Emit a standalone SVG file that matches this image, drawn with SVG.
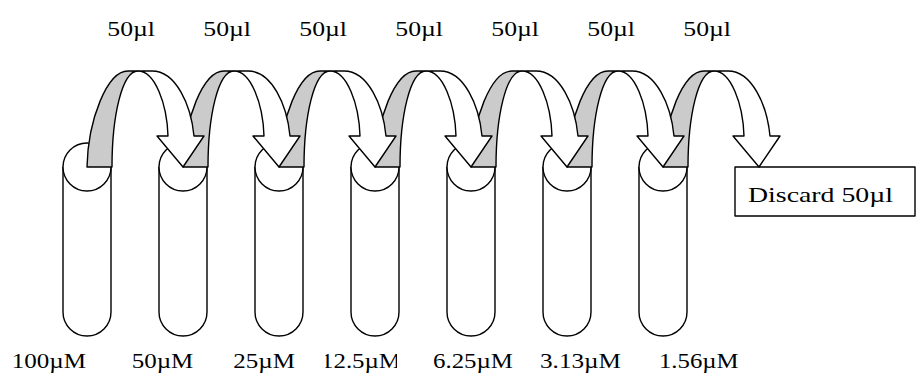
<svg xmlns="http://www.w3.org/2000/svg" width="916" height="374" viewBox="0 0 916 374">
<style>
.o{stroke:#000;stroke-width:1.4;stroke-linejoin:round}
.tube{fill:#fff}
.back{fill:#cbcbcb}
.front{fill:#fff}
text{font-family:"Liberation Serif","Times New Roman",serif;font-size:22px;fill:#000}
</style>
<defs>
<g id="tubeShape">
<path class="o tube" d="M63,167 V312 A24,24 0 0 0 111,312 V167 Z"/>
<circle class="o tube" cx="87" cy="167" r="24"/>
</g>
<g id="arrowShape">
<path class="o back" d="M87,167 C88,120 107,71 128,71 L138,71 C122,71 112,116 112,167 Z"/>
<path class="o front" d="M138,71 L152,71 C176,71 191,105 194,136 L204,136 L183,167 L157,136 L168,136 C167,104 155,71 138,71 Z"/>
</g>
<clipPath id="clip125"><rect x="325.5" y="340" width="71.5" height="34"/></clipPath>
</defs>
<g id="tube1"><use href="#tubeShape"/></g>
<g id="tube2"><use href="#tubeShape" x="96"/></g>
<g id="tube3"><use href="#tubeShape" x="192"/></g>
<g id="tube4"><use href="#tubeShape" x="288"/></g>
<g id="tube5"><use href="#tubeShape" x="384"/></g>
<g id="tube6"><use href="#tubeShape" x="480"/></g>
<g id="tube7"><use href="#tubeShape" x="576"/></g>
<g id="discard">
<rect class="o" x="735" y="167" width="180" height="49" fill="#fff"/>
<text x="748" y="202" textLength="145" lengthAdjust="spacingAndGlyphs">Discard 50µl</text>
</g>
<g id="connectors">
<use href="#arrowShape" x="576"/>
<use href="#arrowShape" x="480"/>
<use href="#arrowShape" x="384"/>
<use href="#arrowShape" x="288"/>
<use href="#arrowShape" x="192"/>
<use href="#arrowShape" x="96"/>
<use href="#arrowShape" x="0"/>
</g>
<g id="volumes">
<text x="107.3" y="36" textLength="47.7" lengthAdjust="spacingAndGlyphs">50µl</text>
<text x="203.3" y="36" textLength="47.7" lengthAdjust="spacingAndGlyphs">50µl</text>
<text x="299.3" y="36" textLength="47.7" lengthAdjust="spacingAndGlyphs">50µl</text>
<text x="395.3" y="36" textLength="47.7" lengthAdjust="spacingAndGlyphs">50µl</text>
<text x="491.3" y="36" textLength="47.7" lengthAdjust="spacingAndGlyphs">50µl</text>
<text x="587.3" y="36" textLength="47.7" lengthAdjust="spacingAndGlyphs">50µl</text>
<text x="683.3" y="36" textLength="47.7" lengthAdjust="spacingAndGlyphs">50µl</text>
</g>
<g id="concentrations">
<text x="11.7" y="368" textLength="74.3" lengthAdjust="spacingAndGlyphs">100µM</text>
<text x="131.7" y="368" textLength="61.6" lengthAdjust="spacingAndGlyphs">50µM</text>
<text x="233.3" y="368" textLength="61.7" lengthAdjust="spacingAndGlyphs">25µM</text>
<text x="321" y="368" textLength="80" lengthAdjust="spacingAndGlyphs" clip-path="url(#clip125)">12.5µM</text>
<text x="433" y="368" textLength="80" lengthAdjust="spacingAndGlyphs">6.25µM</text>
<text x="540" y="368" textLength="81" lengthAdjust="spacingAndGlyphs">3.13µM</text>
<text x="659" y="368" textLength="79.5" lengthAdjust="spacingAndGlyphs">1.56µM</text>
</g>
</svg>
